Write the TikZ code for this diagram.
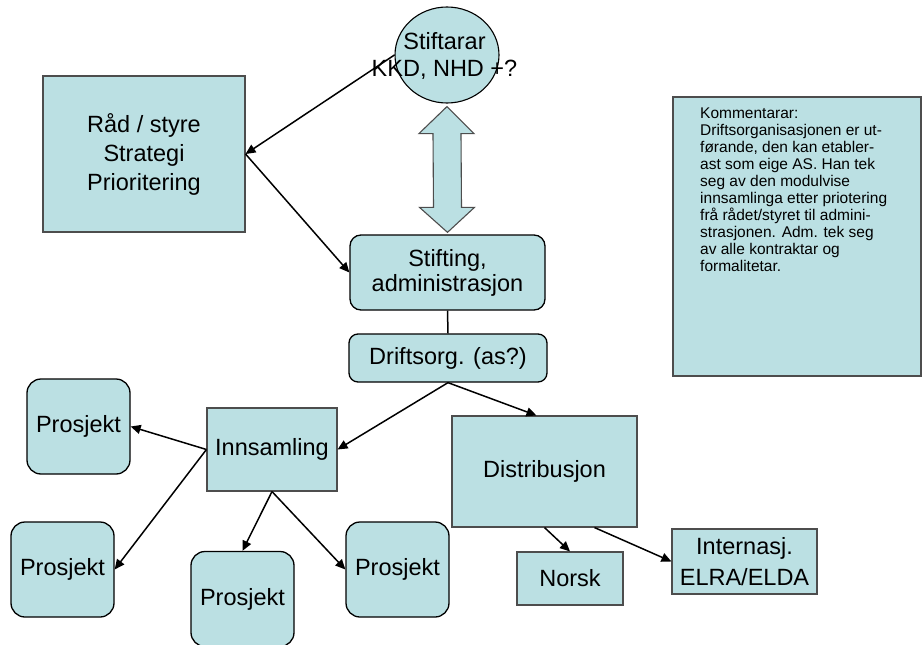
\documentclass[tikz,border=0pt]{standalone}
\usepackage{fontspec}
\setmainfont{Liberation Sans}
\usetikzlibrary{shapes.geometric,arrows.meta,calc}
\definecolor{boxfill}{HTML}{BBE0E3}
\definecolor{rectline}{HTML}{4D4D4D}
\begin{document}
\begin{tikzpicture}[x=1pt,y=-1pt,
  big/.style={font=\fontsize{23.5}{27}\selectfont, align=center},
  rbox/.style={draw=black, line width=1.3pt, fill=boxfill, rounded corners=11pt, inner sep=0pt, big},
  sbox/.style={draw=rectline, line width=1.1pt, fill=boxfill, inner sep=0pt, big},
  conn/.style={line width=1.5pt, -{Triangle[length=10pt,width=9pt]}},
  plain/.style={line width=1.5pt},
]
\useasboundingbox (0,0) rectangle (922,645);

% circle
\node[ellipse, draw=black, line width=1.1pt, fill=boxfill, minimum width=104pt, minimum height=96pt, inner sep=0pt] (stift) at (447,55) {};

% boxes
\node[sbox, minimum width=202pt, minimum height=156pt, font=\fontsize{23.5}{29}\selectfont] (rad) at (144,154) {Råd / styre\\Strategi\\Prioritering};
\node[rbox, minimum width=195pt, minimum height=75pt, font=\fontsize{23.5}{25}\selectfont] (stifting) at (447.5,272.5) {Stifting,\\administrasjon};
\node[rbox, minimum width=198pt, minimum height=48pt, rounded corners=9pt] (drift) at (448,358) {Driftsorg. (as?)};
\node[sbox, minimum width=130pt, minimum height=83pt] (inns) at (272,449.5) {Innsamling};
\node[rbox, minimum width=103pt, minimum height=95pt, rounded corners=14pt] (p1) at (78.5,426.5) {Prosjekt};
\node[rbox, minimum width=103pt, minimum height=95pt, rounded corners=14pt] (p2) at (62.5,569.5) {Prosjekt};
\node[rbox, minimum width=103pt, minimum height=95pt, rounded corners=14pt] (p3) at (242.5,599) {Prosjekt};
\node[rbox, minimum width=103pt, minimum height=95pt, rounded corners=14pt] (p4) at (397.5,569.5) {Prosjekt};
\node[sbox, minimum width=185pt, minimum height=111pt] (dist) at (544.5,471.5) {Distribusjon};
\node[sbox, minimum width=106pt, minimum height=53pt] (norsk) at (570,578.5) {Norsk};
\node[sbox, minimum width=145pt, minimum height=65pt, font=\fontsize{23.5}{31}\selectfont] (intl) at (744.5,561.5) {Internasj.\\ELRA/ELDA};

% comment box
\node[draw=rectline, line width=1.1pt, fill=boxfill, minimum width=248pt, minimum height=279pt, inner sep=0pt] (komm) at (797,236.5) {};
\node[anchor=north west, inner sep=0pt, align=left, font=\fontsize{15.5}{17}\selectfont] (kommtxt) at (700,107.5) {Kommentarar:\\Driftsorganisasjonen er ut-\\førande, den kan etabler-\\ast som eige AS. Han tek\\seg av den modulvise\\innsamlinga etter priotering\\frå rådet/styret til admini-\\strasjonen. Adm. tek seg\\av alle kontraktar og\\formalitetar.};

% double arrow between Stiftarar and Stifting
\path (stift.south) ++(0,3) coordinate (da1);
\path (stifting.north) ++(0,-2) coordinate (da2);
\draw[draw=rectline, line width=1.1pt, fill=boxfill, line join=miter]
  (da1) -- ++(27,27) -- ++(-13,0) -- ($(da2)+(14,-25)$) -- ++(13,0) -- (da2)
  -- ++(-28,-25) -- ++(14,0) -- ($(da1)+(-14,27)$) -- ++(-14,0) -- cycle;

% connectors
\draw[conn] (stift.west) -- (rad.east);
\draw[conn] (rad.east) -- (stifting.west);
\draw[plain] (stifting.south) -- (drift.north);
\draw[conn] (drift.south) -- (inns.east);
\draw[conn] (drift.south) -- ($(dist.north west)+(85,0)$);
\draw[conn] (inns.west) -- (p1.east);
\draw[conn] (inns.west) -- (p2.east);
\draw[conn] (inns.south) -- (p3.north);
\draw[conn] (inns.south) -- (p4.west);
\draw[conn] (dist.south) -- (norsk.north);
\draw[conn] ($(dist.south)+(50,0)$) -- (intl.west);

% circle text
\node[big] (stifttxt) at (444.5,56) {Stiftarar\\KKD, NHD +?};
\end{tikzpicture}
\end{document}
